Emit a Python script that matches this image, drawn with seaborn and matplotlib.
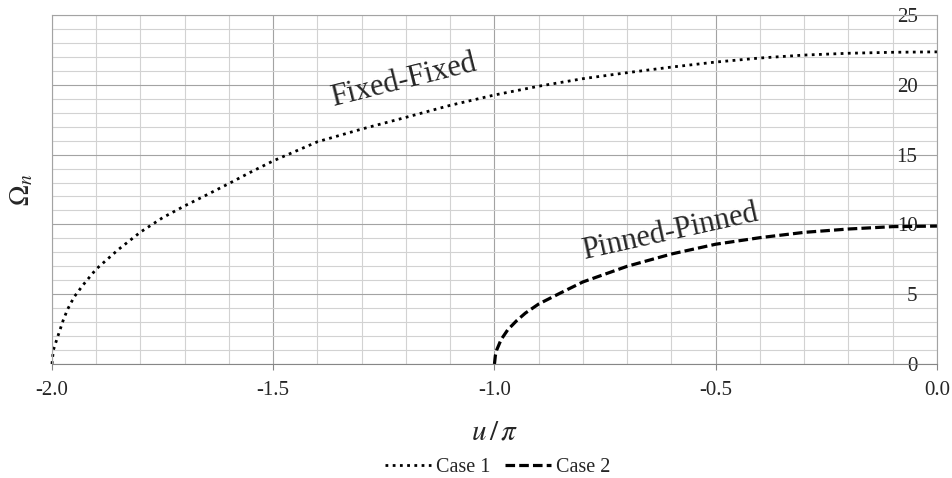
import numpy as np
import pandas as pd
import matplotlib
matplotlib.use("Agg")
import matplotlib.pyplot as plt
import seaborn as sns

# ---- data ----
case1_u = [-2.0, -1.997, -1.992, -1.985, -1.975, -1.965, -1.95, -1.93, -1.91, -1.9,
           -1.85, -1.8, -1.75, -1.7, -1.65, -1.6, -1.55, -1.5, -1.4, -1.3, -1.2, -1.1, -1.0,
           -0.9, -0.8, -0.7, -0.6, -0.5, -0.4, -0.3, -0.2, -0.1, 0.0]
case1_omega = [0.0, 0.98, 1.48, 2.15, 3.1, 3.9, 4.8, 5.65, 6.42, 6.8,
               8.2, 9.45, 10.48, 11.33, 12.12, 12.93, 13.76, 14.55, 15.92, 16.83, 17.67, 18.53, 19.27,
               19.9, 20.44, 20.87, 21.27, 21.63, 21.92, 22.13, 22.26, 22.33, 22.36]

case2_u = [-1.0, -0.998, -0.995, -0.985, -0.97, -0.95, -0.93, -0.9, -0.85, -0.8,
           -0.7, -0.6, -0.5, -0.4, -0.3, -0.2, -0.1, 0.0]
case2_omega = [0.0, 0.6, 1.0, 1.75, 2.45, 3.1, 3.65, 4.3, 5.1, 5.88,
               7.0, 7.88, 8.58, 9.05, 9.43, 9.67, 9.84, 9.88]

series_labels = ["Case 1", "Case 2"]
curve_labels = ["Fixed-Fixed", "Pinned-Pinned"]
x_ticks = [-2.0, -1.5, -1.0, -0.5, 0.0]
x_tick_labels = ["-2.0", "-1.5", "-1.0", "-0.5", "0.0"]
y_ticks = [0, 5, 10, 15, 20, 25]
y_tick_labels = ["0", "5", "10", "15", "20", "25"]

sns.set_theme(style="white")
plt.rcParams["font.family"] = ["Liberation Serif", "DejaVu Serif"]
plt.rcParams["mathtext.fontset"] = "stix"
plt.rcParams["axes.unicode_minus"] = False

df1 = pd.DataFrame({"u": case1_u, "omega": case1_omega})
df2 = pd.DataFrame({"u": case2_u, "omega": case2_omega})

fig = plt.figure(figsize=(9.52, 4.78), dpi=100)
ax = fig.add_axes([0.0546, 0.2385, 0.9296, 0.7301])

sns.lineplot(data=df1, x="u", y="omega", ax=ax, color="black", sort=False,
             linewidth=2.0, linestyle=(0, (1, 1.6)), legend=False)
sns.lineplot(data=df2, x="u", y="omega", ax=ax, color="black", sort=False,
             linewidth=2.3, linestyle=(0, (3, 1.3)), legend=False)
for ln, lab in zip(ax.lines, series_labels):
    ln.set_label(lab)
    ln.set_clip_on(False)

ax.set_xlim(-2.0, 0.0)
ax.set_ylim(0, 25)
ax.set_xticks(x_ticks)
ax.set_xticklabels(x_tick_labels)
ax.set_xticks(np.arange(-2.0, 0.001, 0.1), minor=True)
ax.set_yticks(y_ticks)
ax.set_yticklabels(y_tick_labels)
ax.set_yticks(np.arange(0, 25.01, 1), minor=True)

ax.set_axisbelow(True)
ax.grid(which="minor", color="#d2d2d2", linewidth=0.8)
ax.grid(which="major", color="#a3a3a3", linewidth=0.8)

for s in ax.spines.values():
    s.set_color("#a3a3a3")
    s.set_linewidth(0.8)
ax.spines["bottom"].set_color("#868686")

ax.tick_params(axis="x", which="major", direction="out", length=4.5, width=0.8,
               color="#868686", labelsize=15, pad=8, bottom=True)
ax.tick_params(axis="x", which="minor", length=0)
ax.tick_params(axis="y", which="both", length=0, left=False, right=False,
               labelleft=False, labelright=True, labelsize=15, pad=-14)
for t in ax.get_yticklabels():
    t.set_horizontalalignment("right")

ax.set_xlabel(r"$u\,/\,\pi$", fontsize=21, labelpad=14)
ax.set_ylabel(r"$\Omega_n$", fontsize=20, labelpad=12)

ax.text(-1.206, 20.3, curve_labels[0], fontsize=22, rotation=14,
        ha="center", va="center", rotation_mode="anchor")
ax.text(-0.602, 9.45, curve_labels[1], fontsize=22, rotation=12.5,
        ha="center", va="center", rotation_mode="anchor")

handles = ax.lines[:2]
fig.legend(handles, series_labels, loc="lower center", bbox_to_anchor=(0.5226, -0.035),
           ncol=2, frameon=False, fontsize=14.5, handlelength=2.3,
           handletextpad=0.25, columnspacing=0.7)

fig.savefig("out.png", dpi=100)
